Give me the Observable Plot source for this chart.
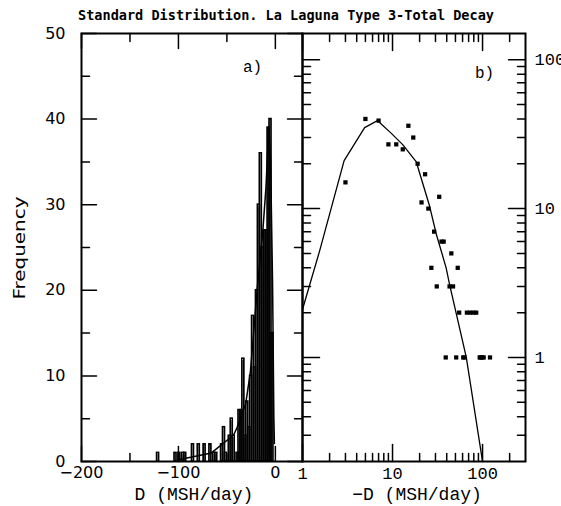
<!DOCTYPE html>
<html><head><meta charset="utf-8">
<script src="https://cdn.jsdelivr.net/npm/d3@7"></script>
<script src="https://cdn.jsdelivr.net/npm/@observablehq/plot@0.6"></script>
<style>
body{margin:0;background:#fff;}
#wrap{position:relative;width:561px;height:506px;overflow:hidden;background:#fff;}
#wrap svg{position:absolute;left:0;top:0;background:transparent;}
</style></head><body><div id="wrap"></div>
<script>
// ---- data ----
// histogram bins of -D (MSH/day), width 2, given by centre, with counts
const binCenters = [3,5,7,9,11,13,15,17,19,21,23,25,27,29,31,33,35,37,39,43,45,47,51,53,55,61,63,67,73,79,85,93,95,99,103,121];
const binCounts  = [15,40,39,27,27,25,36,30,20,11,17,10,4,7,3,12,6,6,1,3,5,3,1,4,2,1,1,2,2,2,2,1,1,1,1,1];
// fitted standard (log-normal) distribution
const fitX = [1,1.55,2.9,4.9,6.8,9.7,12.9,18.3,25.8,30.6,39.4,43,66,100];
const fitY = [2.1,5.2,21,35,39,32,27,20.7,10.4,6.75,4.0,3.1,1.0,0.2];
// tick values
const aXMajor = [-200,-100,0], aXMinor = [-150,-50];
const aYMajor = [0,10,20,30,40,50], aYMinor = [5,15,25,35,45];
const aXLabels = [-200,-100,0], aYLabels = [0,10,20,30,40,50];
const bXMajor = [1,10,100], bXMinor = [2,3,4,5,6,7,8,9,20,30,40,50,60,70,80,90,200];
const bYMajor = [1,10,100], bYMinor = [0.3,0.4,0.5,0.6,0.7,0.8,0.9,2,3,4,5,6,7,8,9,20,30,40,50,60,70,80,90];
const bXLabels = [1,10,100], bYLabels = [1,10,100];
const title = "Standard Distribution. La Laguna Type 3-Total Decay";

// ---- layout ----
const W = 561, H = 506;
const L = 81, MID = 302, R = 525, T = 33, B = 461;
const MAJ = 15, MIN = 8;

const hist = binCenters.map((c, i) => ({x1: -(c + 1), x2: -(c - 1), c, n: binCounts[i]}));
const fit = fitX.map((x, i) => ({x, y: fitY[i]}));

const tickShape = {draw(ctx, l) { ctx.moveTo(0, 0); ctx.lineTo(0, -l); }};
function ticksX(vals, anchor, len) {
  return Plot.vector(vals, {x: d => d, frameAnchor: anchor, length: len, rotate: anchor === "bottom" ? 0 : 180,
    anchor: "start", shape: tickShape, stroke: "black", strokeWidth: 1.5});
}
function ticksY(vals, anchor, len) {
  return Plot.vector(vals, {y: d => d, frameAnchor: anchor, length: len, rotate: anchor === "left" ? 90 : -90,
    anchor: "start", shape: tickShape, stroke: "black", strokeWidth: 1.5});
}
const minus = d => d < 0 ? "\u2212" + (-d) : String(d);

const plotA = Plot.plot({
  width: W, height: H,
  marginLeft: L, marginRight: W - MID, marginTop: T, marginBottom: H - B,
  x: {type: "linear", domain: [-200, 28]},
  y: {type: "linear", domain: [0, 50]},
  marks: [
    Plot.rectY(hist, {x1: "x1", x2: "x2", y: "n", fill: "none", stroke: "black", strokeWidth: 1.7}),
    Plot.line(fit, {x: d => -d.x, y: "y", stroke: "black", strokeWidth: 1.5}),
    ticksX(aXMajor, "bottom", MAJ), ticksX(aXMinor, "bottom", MIN),
    ticksX(aXMajor, "top", MAJ), ticksX(aXMinor, "top", MIN),
    ticksY(aYMajor, "left", MAJ), ticksY(aYMinor, "left", MIN),
    ticksY(aYMajor, "right", MAJ), ticksY(aYMinor, "right", MIN),
    Plot.axisX(aXLabels, {anchor: "bottom", tickSize: 0, tickPadding: 5, tickFormat: minus,
      fontSize: 16, fontFamily: "DejaVu Sans", label: null}),
    Plot.axisY(aYLabels, {anchor: "left", tickSize: 0, tickPadding: 16, tickFormat: d => String(d),
      fontSize: 16, fontFamily: "DejaVu Sans", label: null}),
    Plot.frame({stroke: "black", strokeWidth: 2})
  ]
});

const plotB = Plot.plot({
  width: W, height: H,
  marginLeft: MID, marginRight: W - R, marginTop: T, marginBottom: H - B,
  x: {type: "log", domain: [1, 300]},
  y: {type: "log", domain: [0.2, 150]},
  marks: [
    Plot.line(fit, {x: "x", y: "y", stroke: "black", strokeWidth: 1.3, clip: true}),
    Plot.dot(binCenters.map((c, i) => ({c, n: binCounts[i]})), {x: "c", y: "n", symbol: "square", r: 2.4, fill: "black", stroke: "none"}),
    ticksX(bXMajor, "bottom", MAJ + 2), ticksX(bXMinor, "bottom", MIN),
    ticksX(bXMajor, "top", MAJ + 2), ticksX(bXMinor, "top", MIN),
    ticksY(bYMajor, "left", MAJ + 2), ticksY(bYMinor, "left", MIN),
    ticksY(bYMajor, "right", MAJ + 2), ticksY(bYMinor, "right", MIN),
    Plot.axisX(bXLabels, {anchor: "bottom", tickSize: 0, tickPadding: 5, tickFormat: d => String(d),
      fontSize: 17, fontFamily: "Liberation Mono", label: null}),
    Plot.axisY(bYLabels, {anchor: "right", tickSize: 0, tickPadding: 9, tickFormat: d => String(d),
      fontSize: 17, fontFamily: "Liberation Mono", label: null}),
    Plot.frame({stroke: "black", strokeWidth: 2})
  ]
});

const wrap = document.getElementById("wrap");
wrap.appendChild(plotA);
wrap.appendChild(plotB);

const svg = d3.select(plotA);
function addText(txt, x, y, opts) {
  const t = svg.append("text").attr("x", x).attr("y", y).text(txt)
    .attr("fill", "black")
    .attr("font-family", opts.family).attr("font-size", opts.size)
    .attr("font-weight", opts.weight || "normal")
    .attr("text-anchor", opts.anchor || "start");
  if (opts.len) t.attr("textLength", opts.len).attr("lengthAdjust", "spacingAndGlyphs");
  if (opts.rotate) t.attr("transform", `rotate(${opts.rotate},${x},${y})`);
  return t;
}
addText(title, 78, 20, {family: "DejaVu Sans Mono", size: 13.5, weight: "bold", len: 416});
addText("Frequency", 25, 248, {family: "DejaVu Sans", size: 16, anchor: "middle", rotate: -90, len: 103});
addText("D (MSH/day)", 194, 500, {family: "Liberation Mono", size: 18, anchor: "middle"});
addText("\u2212D (MSH/day)", 417, 500, {family: "Liberation Mono", size: 18, anchor: "middle"});
addText("a)", 243, 72, {family: "Liberation Mono", size: 16});
addText("b)", 475, 78, {family: "Liberation Mono", size: 16});
</script></body></html>
